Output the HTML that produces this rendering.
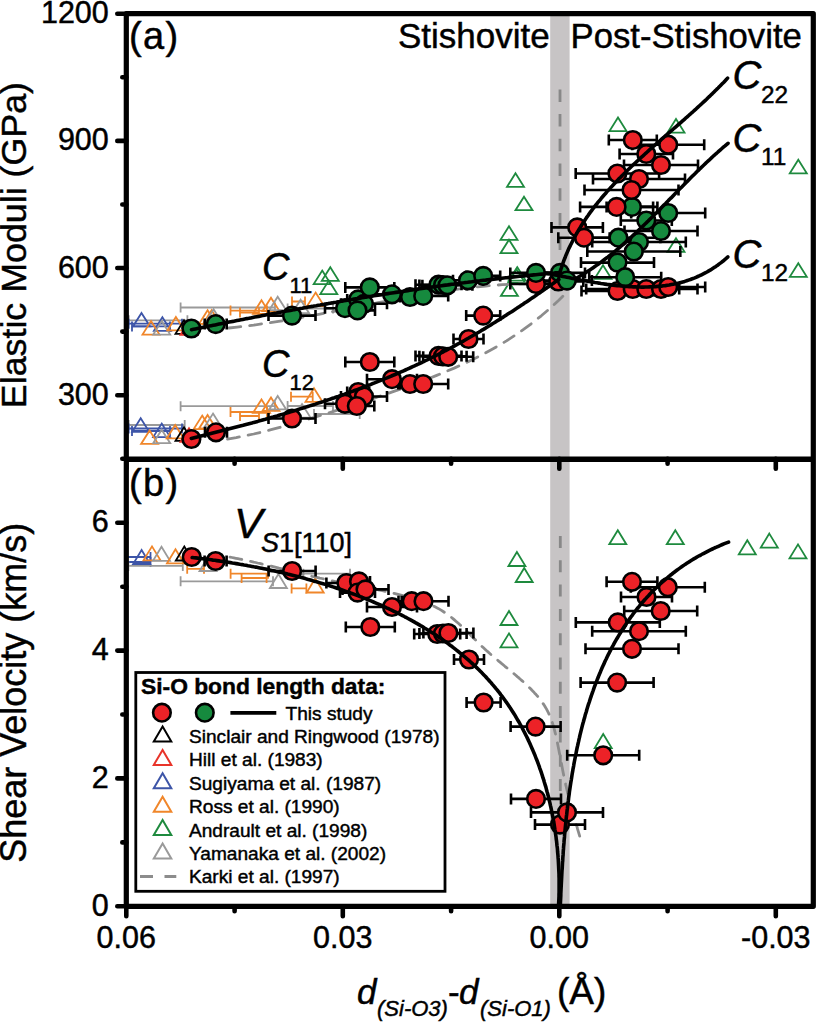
<!DOCTYPE html>
<html><head><meta charset="utf-8"><style>
html,body{margin:0;padding:0;background:#fff;}
svg{display:block;font-family:"Liberation Sans",sans-serif;}
text{stroke:#000;stroke-width:0.45px;}
</style></head><body>
<svg width="816" height="1024" viewBox="0 0 816 1024">
<rect width="816" height="1024" fill="#fff"/>
<rect x="550.2" y="13.7" width="19.4" height="892.5999999999999" fill="#c7c4c5"/>
<path d="M560,89.4V252" stroke="#888" stroke-width="2.8" stroke-dasharray="12.5 12.2" fill="none"/>
<path d="M560.3,536V800" stroke="#888" stroke-width="2.8" stroke-dasharray="12 12.3" fill="none"/>
<path d="M128.7,320.3H187.4M128.7,315.3V325.3M187.4,315.3V325.3" stroke="#9a9a9a" stroke-width="1.8" fill="none"/>
<path d="M128.7,323.7H182.0M128.7,318.7V328.7M182.0,318.7V328.7" stroke="#3d55a8" stroke-width="1.8" fill="none"/>
<path d="M132.0,326.4H170.0M132.0,321.4V331.4M170.0,321.4V331.4" stroke="#3d55a8" stroke-width="1.8" fill="none"/>
<path d="M180.6,307.5H275.0M180.6,302.5V312.5M275.0,302.5V312.5" stroke="#9a9a9a" stroke-width="1.8" fill="none"/>
<path d="M230.5,310.6H267.0M230.5,305.6V315.6M267.0,305.6V315.6" stroke="#f0862a" stroke-width="1.8" fill="none"/>
<path d="M240.0,312.5H259.0M240.0,307.5V317.5M259.0,307.5V317.5" stroke="#f0862a" stroke-width="1.8" fill="none"/>
<path d="M292.0,301.5H305.0M292.0,296.5V306.5M305.0,296.5V306.5" stroke="#f0862a" stroke-width="1.8" fill="none"/>
<path d="M287.6,308.5H333.0M287.6,303.5V313.5M333.0,303.5V313.5" stroke="#9a9a9a" stroke-width="1.8" fill="none"/>
<path d="M128.7,425.0H184.7M128.7,420.0V430.0M184.7,420.0V430.0" stroke="#9a9a9a" stroke-width="1.8" fill="none"/>
<path d="M128.7,428.5H182.0M128.7,423.5V433.5M182.0,423.5V433.5" stroke="#3d55a8" stroke-width="1.8" fill="none"/>
<path d="M132.0,431.0H170.0M132.0,426.0V436.0M170.0,426.0V436.0" stroke="#3d55a8" stroke-width="1.8" fill="none"/>
<path d="M180.6,406.2H275.0M180.6,401.2V411.2M275.0,401.2V411.2" stroke="#9a9a9a" stroke-width="1.8" fill="none"/>
<path d="M230.5,412.0H267.0M230.5,407.0V417.0M267.0,407.0V417.0" stroke="#f0862a" stroke-width="1.8" fill="none"/>
<path d="M240.0,416.0H259.0M240.0,411.0V421.0M259.0,411.0V421.0" stroke="#f0862a" stroke-width="1.8" fill="none"/>
<path d="M291.0,396.7H312.7M291.0,391.7V401.7M312.7,391.7V401.7" stroke="#f0862a" stroke-width="1.8" fill="none"/>
<path d="M287.6,406.0H333.0M287.6,401.0V411.0M333.0,401.0V411.0" stroke="#9a9a9a" stroke-width="1.8" fill="none"/>
<path d="M314.0,414.0H359.7M314.0,409.0V419.0M359.7,409.0V419.0" stroke="#9a9a9a" stroke-width="1.8" fill="none"/>
<path d="M141.5,312.9L150.0,326.4H133.0Z" fill="none" stroke="#3d55a8" stroke-width="1.8" stroke-linejoin="miter"/>
<path d="M162.4,317.2L170.9,330.8H153.9Z" fill="none" stroke="#3d55a8" stroke-width="1.8" stroke-linejoin="miter"/>
<path d="M151.0,321.1L159.5,334.6H142.5Z" fill="none" stroke="#f0862a" stroke-width="1.8" stroke-linejoin="miter"/>
<path d="M161.7,321.1L170.2,334.6H153.2Z" fill="none" stroke="#9a9a9a" stroke-width="1.8" stroke-linejoin="miter"/>
<path d="M175.9,316.9L184.4,330.4H167.4Z" fill="none" stroke="#f0862a" stroke-width="1.8" stroke-linejoin="miter"/>
<path d="M184.0,320.2L192.5,333.8H175.5Z" fill="none" stroke="#000000" stroke-width="1.8" stroke-linejoin="miter"/>
<path d="M189.0,321.2L197.5,334.8H180.5Z" fill="none" stroke="#e8342a" stroke-width="1.8" stroke-linejoin="miter"/>
<path d="M207.6,310.2L216.1,323.8H199.1Z" fill="none" stroke="#f0862a" stroke-width="1.8" stroke-linejoin="miter"/>
<path d="M211.6,310.2L220.1,323.8H203.1Z" fill="none" stroke="#f0862a" stroke-width="1.8" stroke-linejoin="miter"/>
<path d="M213.6,309.2L222.1,322.8H205.1Z" fill="none" stroke="#9a9a9a" stroke-width="1.8" stroke-linejoin="miter"/>
<path d="M261.5,300.2L270.0,313.8H253.0Z" fill="none" stroke="#f0862a" stroke-width="1.8" stroke-linejoin="miter"/>
<path d="M271.0,297.8L279.5,311.2H262.5Z" fill="none" stroke="#f0862a" stroke-width="1.8" stroke-linejoin="miter"/>
<path d="M277.7,296.8L286.2,310.2H269.2Z" fill="none" stroke="#9a9a9a" stroke-width="1.8" stroke-linejoin="miter"/>
<path d="M300.6,299.8L309.1,313.2H292.1Z" fill="none" stroke="#9a9a9a" stroke-width="1.8" stroke-linejoin="miter"/>
<path d="M315.6,292.6L324.1,306.1H307.1Z" fill="none" stroke="#f0862a" stroke-width="1.8" stroke-linejoin="miter"/>
<path d="M322.2,270.6L330.7,284.1H313.7Z" fill="none" stroke="#1e8a3e" stroke-width="1.8" stroke-linejoin="miter"/>
<path d="M330.3,267.2L338.8,280.8H321.8Z" fill="none" stroke="#1e8a3e" stroke-width="1.8" stroke-linejoin="miter"/>
<path d="M328.8,280.6L337.3,294.1H320.3Z" fill="none" stroke="#1e8a3e" stroke-width="1.8" stroke-linejoin="miter"/>
<path d="M140.7,418.2L149.2,431.8H132.2Z" fill="none" stroke="#3d55a8" stroke-width="1.8" stroke-linejoin="miter"/>
<path d="M161.7,423.6L170.2,437.1H153.2Z" fill="none" stroke="#3d55a8" stroke-width="1.8" stroke-linejoin="miter"/>
<path d="M149.6,430.4L158.1,443.9H141.1Z" fill="none" stroke="#f0862a" stroke-width="1.8" stroke-linejoin="miter"/>
<path d="M161.7,429.8L170.2,443.2H153.2Z" fill="none" stroke="#9a9a9a" stroke-width="1.8" stroke-linejoin="miter"/>
<path d="M175.2,424.9L183.7,438.4H166.7Z" fill="none" stroke="#f0862a" stroke-width="1.8" stroke-linejoin="miter"/>
<path d="M184.0,427.2L192.5,440.8H175.5Z" fill="none" stroke="#000000" stroke-width="1.8" stroke-linejoin="miter"/>
<path d="M189.0,428.2L197.5,441.8H180.5Z" fill="none" stroke="#e8342a" stroke-width="1.8" stroke-linejoin="miter"/>
<path d="M202.2,415.6L210.7,429.1H193.7Z" fill="none" stroke="#f0862a" stroke-width="1.8" stroke-linejoin="miter"/>
<path d="M207.6,414.9L216.1,428.4H199.1Z" fill="none" stroke="#f0862a" stroke-width="1.8" stroke-linejoin="miter"/>
<path d="M213.0,413.6L221.5,427.1H204.5Z" fill="none" stroke="#9a9a9a" stroke-width="1.8" stroke-linejoin="miter"/>
<path d="M261.5,399.4L270.0,412.9H253.0Z" fill="none" stroke="#f0862a" stroke-width="1.8" stroke-linejoin="miter"/>
<path d="M271.0,397.4L279.5,410.9H262.5Z" fill="none" stroke="#f0862a" stroke-width="1.8" stroke-linejoin="miter"/>
<path d="M277.7,395.9L286.2,409.4H269.2Z" fill="none" stroke="#9a9a9a" stroke-width="1.8" stroke-linejoin="miter"/>
<path d="M302.0,404.1L310.5,417.6H293.5Z" fill="none" stroke="#9a9a9a" stroke-width="1.8" stroke-linejoin="miter"/>
<path d="M314.0,388.2L322.5,401.8H305.5Z" fill="none" stroke="#f0862a" stroke-width="1.8" stroke-linejoin="miter"/>
<path d="M509.0,226.2L517.5,239.8H500.5Z" fill="none" stroke="#1e8a3e" stroke-width="1.8" stroke-linejoin="miter"/>
<path d="M509.0,239.8L517.5,253.2H500.5Z" fill="none" stroke="#1e8a3e" stroke-width="1.8" stroke-linejoin="miter"/>
<path d="M524.0,196.7L532.5,210.2H515.5Z" fill="none" stroke="#1e8a3e" stroke-width="1.8" stroke-linejoin="miter"/>
<path d="M515.5,173.2L524.0,186.8H507.0Z" fill="none" stroke="#1e8a3e" stroke-width="1.8" stroke-linejoin="miter"/>
<path d="M516.5,269.2L525.0,282.8H508.0Z" fill="none" stroke="#1e8a3e" stroke-width="1.8" stroke-linejoin="miter"/>
<path d="M509.4,282.4L517.9,295.9H500.9Z" fill="none" stroke="#1e8a3e" stroke-width="1.8" stroke-linejoin="miter"/>
<path d="M517.2,267.1L525.7,280.6H508.7Z" fill="none" stroke="#1e8a3e" stroke-width="1.8" stroke-linejoin="miter"/>
<path d="M603.0,265.2L611.5,278.8H594.5Z" fill="none" stroke="#1e8a3e" stroke-width="1.8" stroke-linejoin="miter"/>
<path d="M618.0,117.5L626.5,131.1H609.5Z" fill="none" stroke="#1e8a3e" stroke-width="1.8" stroke-linejoin="miter"/>
<path d="M676.0,119.0L684.5,132.6H667.5Z" fill="none" stroke="#1e8a3e" stroke-width="1.8" stroke-linejoin="miter"/>
<path d="M798.3,159.8L806.8,173.3H789.8Z" fill="none" stroke="#1e8a3e" stroke-width="1.8" stroke-linejoin="miter"/>
<path d="M798.3,263.2L806.8,276.8H789.8Z" fill="none" stroke="#1e8a3e" stroke-width="1.8" stroke-linejoin="miter"/>
<path d="M676.0,238.2L684.5,251.8H667.5Z" fill="none" stroke="#1e8a3e" stroke-width="1.8" stroke-linejoin="miter"/>
<path d="M228.8,328.0 L237.1,327.1 L245.4,326.1 L253.7,325.1 L261.9,323.9 L270.2,322.7 L278.5,321.4 L286.8,320.0 L295.1,318.6 L303.4,317.1 L311.7,315.6 L320.0,314.1 L328.2,312.5 L336.5,310.9 L344.8,309.2 L353.1,307.6 L361.4,305.9 L369.7,304.3 L378.0,302.7 L386.3,301.1 L394.5,299.5 L402.8,298.0 L411.1,296.5 L419.4,295.0 L427.7,293.6 L436.0,292.3 L444.3,291.0 L452.6,289.8 L460.8,288.7 L469.1,287.7 L477.4,286.8 L485.7,286.0 L494.0,285.3 L502.3,284.7 L510.6,284.3 L518.9,283.9 L527.1,283.8 L535.4,283.7 L543.7,283.9 L552.0,284.2" fill="none" stroke="#8c8c8c" stroke-width="2.8" stroke-linecap="round" stroke-linejoin="round" stroke-dasharray="12 9"/>
<path d="M227.5,439.1 L236.2,437.6 L244.9,435.9 L253.7,434.0 L262.4,431.9 L271.1,429.7 L279.8,427.4 L288.5,424.9 L297.2,422.4 L306.0,419.9 L314.7,417.2 L323.4,414.5 L332.1,411.8 L340.8,409.0 L349.6,406.2 L358.3,403.4 L367.0,400.5 L375.7,397.6 L384.4,394.6 L393.1,391.6 L401.9,388.6 L410.6,385.4 L419.3,382.2 L428.0,378.9 L436.7,375.4 L445.4,371.8 L454.2,368.1 L462.9,364.2 L471.6,360.0 L480.3,355.7 L489.0,351.0 L497.8,346.1 L506.5,340.9 L515.2,335.2 L523.9,329.2 L532.6,322.7 L541.3,315.8 L550.1,308.3 L558.8,300.2 L567.5,291.5 L571.0,280.0" fill="none" stroke="#8c8c8c" stroke-width="2.8" stroke-linecap="round" stroke-linejoin="round" stroke-dasharray="12 9"/>
<path d="M204.7,324.1H226.7M204.7,318.6V329.6M226.7,318.6V329.6" stroke="#000" stroke-width="2.6" fill="none"/>
<path d="M268.5,315.6H315.5M268.5,310.1V321.1M315.5,310.1V321.1" stroke="#000" stroke-width="2.6" fill="none"/>
<path d="M325.0,308.2H365.0M325.0,302.7V313.7M365.0,302.7V313.7" stroke="#000" stroke-width="2.6" fill="none"/>
<path d="M347.2,299.4H369.2M347.2,293.9V304.9M369.2,293.9V304.9" stroke="#000" stroke-width="2.6" fill="none"/>
<path d="M341.0,303.8H387.0M341.0,298.3V309.3M387.0,298.3V309.3" stroke="#000" stroke-width="2.6" fill="none"/>
<path d="M340.0,310.4H375.0M340.0,304.9V315.9M375.0,304.9V315.9" stroke="#000" stroke-width="2.6" fill="none"/>
<path d="M345.3,287.4H394.3M345.3,281.9V292.9M394.3,281.9V292.9" stroke="#000" stroke-width="2.6" fill="none"/>
<path d="M367.0,294.3H417.0M367.0,288.8V299.8M417.0,288.8V299.8" stroke="#000" stroke-width="2.6" fill="none"/>
<path d="M400.0,297.0H420.0M400.0,291.5V302.5M420.0,291.5V302.5" stroke="#000" stroke-width="2.6" fill="none"/>
<path d="M398.2,295.9H448.2M398.2,290.4V301.4M448.2,290.4V301.4" stroke="#000" stroke-width="2.6" fill="none"/>
<path d="M415.5,284.7H461.5M415.5,279.2V290.2M461.5,279.2V290.2" stroke="#000" stroke-width="2.6" fill="none"/>
<path d="M419.4,285.0H466.6M419.4,279.5V290.5M466.6,279.5V290.5" stroke="#000" stroke-width="2.6" fill="none"/>
<path d="M422.4,285.3H472.4M422.4,279.8V290.8M472.4,279.8V290.8" stroke="#000" stroke-width="2.6" fill="none"/>
<path d="M453.0,280.3H483.0M453.0,274.8V285.8M483.0,274.8V285.8" stroke="#000" stroke-width="2.6" fill="none"/>
<path d="M466.2,275.9H500.2M466.2,270.4V281.4M500.2,270.4V281.4" stroke="#000" stroke-width="2.6" fill="none"/>
<path d="M510.3,272.9H561.7M510.3,267.4V278.4M561.7,267.4V278.4" stroke="#000" stroke-width="2.6" fill="none"/>
<path d="M535.0,272.9H585.0M535.0,267.4V278.4M585.0,267.4V278.4" stroke="#000" stroke-width="2.6" fill="none"/>
<path d="M541.9,280.6H591.9M541.9,275.1V286.1M591.9,275.1V286.1" stroke="#000" stroke-width="2.6" fill="none"/>
<path d="M606.6,206.9H657.4M606.6,201.4V212.4M657.4,201.4V212.4" stroke="#000" stroke-width="2.6" fill="none"/>
<path d="M631.2,213.0H705.2M631.2,207.5V218.5M705.2,207.5V218.5" stroke="#000" stroke-width="2.6" fill="none"/>
<path d="M620.8,220.5H671.8M620.8,215.0V226.0M671.8,215.0V226.0" stroke="#000" stroke-width="2.6" fill="none"/>
<path d="M624.5,231.0H697.5M624.5,225.5V236.5M697.5,225.5V236.5" stroke="#000" stroke-width="2.6" fill="none"/>
<path d="M576.4,237.7H660.4M576.4,232.2V243.2M660.4,232.2V243.2" stroke="#000" stroke-width="2.6" fill="none"/>
<path d="M592.2,242.0H685.8M592.2,236.5V247.5M685.8,236.5V247.5" stroke="#000" stroke-width="2.6" fill="none"/>
<path d="M587.3,251.5H680.3M587.3,246.0V257.0M680.3,246.0V257.0" stroke="#000" stroke-width="2.6" fill="none"/>
<path d="M581.0,262.6H654.0M581.0,257.1V268.1M654.0,257.1V268.1" stroke="#000" stroke-width="2.6" fill="none"/>
<path d="M589.2,277.2H661.2M589.2,271.7V282.7M661.2,271.7V282.7" stroke="#000" stroke-width="2.6" fill="none"/>
<path d="M205.0,432.3H227.0M205.0,426.8V437.8M227.0,426.8V437.8" stroke="#000" stroke-width="2.6" fill="none"/>
<path d="M268.5,418.5H315.5M268.5,413.0V424.0M315.5,413.0V424.0" stroke="#000" stroke-width="2.6" fill="none"/>
<path d="M325.0,403.8H365.0M325.0,398.3V409.3M365.0,398.3V409.3" stroke="#000" stroke-width="2.6" fill="none"/>
<path d="M347.2,392.0H369.2M347.2,386.5V397.5M369.2,386.5V397.5" stroke="#000" stroke-width="2.6" fill="none"/>
<path d="M341.0,396.5H387.0M341.0,391.0V402.0M387.0,391.0V402.0" stroke="#000" stroke-width="2.6" fill="none"/>
<path d="M339.3,406.0H374.3M339.3,400.5V411.5M374.3,400.5V411.5" stroke="#000" stroke-width="2.6" fill="none"/>
<path d="M345.3,362.0H394.3M345.3,356.5V367.5M394.3,356.5V367.5" stroke="#000" stroke-width="2.6" fill="none"/>
<path d="M367.0,379.2H417.0M367.0,373.7V384.7M417.0,373.7V384.7" stroke="#000" stroke-width="2.6" fill="none"/>
<path d="M400.0,384.0H420.0M400.0,378.5V389.5M420.0,378.5V389.5" stroke="#000" stroke-width="2.6" fill="none"/>
<path d="M398.2,384.0H448.2M398.2,378.5V389.5M448.2,378.5V389.5" stroke="#000" stroke-width="2.6" fill="none"/>
<path d="M415.5,355.9H461.5M415.5,350.4V361.4M461.5,350.4V361.4" stroke="#000" stroke-width="2.6" fill="none"/>
<path d="M419.4,356.3H466.6M419.4,350.8V361.8M466.6,350.8V361.8" stroke="#000" stroke-width="2.6" fill="none"/>
<path d="M423.2,356.8H473.2M423.2,351.3V362.3M473.2,351.3V362.3" stroke="#000" stroke-width="2.6" fill="none"/>
<path d="M453.5,339.0H483.5M453.5,333.5V344.5M483.5,333.5V344.5" stroke="#000" stroke-width="2.6" fill="none"/>
<path d="M466.2,315.6H500.2M466.2,310.1V321.1M500.2,310.1V321.1" stroke="#000" stroke-width="2.6" fill="none"/>
<path d="M510.3,284.0H561.7M510.3,278.5V289.5M561.7,278.5V289.5" stroke="#000" stroke-width="2.6" fill="none"/>
<path d="M533.3,281.5H583.3M533.3,276.0V287.0M583.3,276.0V287.0" stroke="#000" stroke-width="2.6" fill="none"/>
<path d="M581.5,291.0H653.5M581.5,285.5V296.5M653.5,285.5V296.5" stroke="#000" stroke-width="2.6" fill="none"/>
<path d="M586.2,289.0H679.2M586.2,283.5V294.5M679.2,283.5V294.5" stroke="#000" stroke-width="2.6" fill="none"/>
<path d="M620.8,289.0H671.8M620.8,283.5V294.5M671.8,283.5V294.5" stroke="#000" stroke-width="2.6" fill="none"/>
<path d="M624.5,289.0H697.5M624.5,283.5V294.5M697.5,283.5V294.5" stroke="#000" stroke-width="2.6" fill="none"/>
<path d="M631.2,287.0H705.2M631.2,281.5V292.5M705.2,281.5V292.5" stroke="#000" stroke-width="2.6" fill="none"/>
<path d="M608.8,140.0H656.8M608.8,134.5V145.5M656.8,134.5V145.5" stroke="#000" stroke-width="2.6" fill="none"/>
<path d="M632.2,144.7H704.2M632.2,139.2V150.2M704.2,139.2V150.2" stroke="#000" stroke-width="2.6" fill="none"/>
<path d="M619.6,154.0H673.0M619.6,148.5V159.5M673.0,148.5V159.5" stroke="#000" stroke-width="2.6" fill="none"/>
<path d="M624.0,165.0H698.0M624.0,159.5V170.5M698.0,159.5V170.5" stroke="#000" stroke-width="2.6" fill="none"/>
<path d="M575.7,173.5H659.1M575.7,168.0V179.0M659.1,168.0V179.0" stroke="#000" stroke-width="2.6" fill="none"/>
<path d="M593.0,179.0H685.0M593.0,173.5V184.5M685.0,173.5V184.5" stroke="#000" stroke-width="2.6" fill="none"/>
<path d="M584.5,190.0H678.5M584.5,184.5V195.5M678.5,184.5V195.5" stroke="#000" stroke-width="2.6" fill="none"/>
<path d="M580.1,206.9H653.1M580.1,201.4V212.4M653.1,201.4V212.4" stroke="#000" stroke-width="2.6" fill="none"/>
<path d="M551.5,227.4H602.9M551.5,221.9V232.9M602.9,221.9V232.9" stroke="#000" stroke-width="2.6" fill="none"/>
<path d="M558.3,237.7H609.7M558.3,232.2V243.2M609.7,232.2V243.2" stroke="#000" stroke-width="2.6" fill="none"/>
<circle cx="191.4" cy="439.0" r="8.8" fill="#ec2227" stroke="#000" stroke-width="2.6"/>
<circle cx="216.0" cy="432.3" r="8.8" fill="#ec2227" stroke="#000" stroke-width="2.6"/>
<circle cx="292.0" cy="418.5" r="8.8" fill="#ec2227" stroke="#000" stroke-width="2.6"/>
<circle cx="345.0" cy="403.8" r="8.8" fill="#ec2227" stroke="#000" stroke-width="2.6"/>
<circle cx="358.2" cy="392.0" r="8.8" fill="#ec2227" stroke="#000" stroke-width="2.6"/>
<circle cx="364.0" cy="396.5" r="8.8" fill="#ec2227" stroke="#000" stroke-width="2.6"/>
<circle cx="356.8" cy="406.0" r="8.8" fill="#ec2227" stroke="#000" stroke-width="2.6"/>
<circle cx="369.8" cy="362.0" r="8.8" fill="#ec2227" stroke="#000" stroke-width="2.6"/>
<circle cx="392.0" cy="379.2" r="8.8" fill="#ec2227" stroke="#000" stroke-width="2.6"/>
<circle cx="410.0" cy="384.0" r="8.8" fill="#ec2227" stroke="#000" stroke-width="2.6"/>
<circle cx="423.2" cy="384.0" r="8.8" fill="#ec2227" stroke="#000" stroke-width="2.6"/>
<circle cx="438.5" cy="355.9" r="8.8" fill="#ec2227" stroke="#000" stroke-width="2.6"/>
<circle cx="443.0" cy="356.3" r="8.8" fill="#ec2227" stroke="#000" stroke-width="2.6"/>
<circle cx="448.2" cy="356.8" r="8.8" fill="#ec2227" stroke="#000" stroke-width="2.6"/>
<circle cx="468.5" cy="339.0" r="8.8" fill="#ec2227" stroke="#000" stroke-width="2.6"/>
<circle cx="483.2" cy="315.6" r="8.8" fill="#ec2227" stroke="#000" stroke-width="2.6"/>
<circle cx="536.0" cy="284.0" r="8.8" fill="#ec2227" stroke="#000" stroke-width="2.6"/>
<circle cx="558.3" cy="281.5" r="8.8" fill="#ec2227" stroke="#000" stroke-width="2.6"/>
<circle cx="617.5" cy="291.0" r="8.8" fill="#ec2227" stroke="#000" stroke-width="2.6"/>
<circle cx="632.7" cy="289.0" r="8.8" fill="#ec2227" stroke="#000" stroke-width="2.6"/>
<circle cx="646.3" cy="289.0" r="8.8" fill="#ec2227" stroke="#000" stroke-width="2.6"/>
<circle cx="661.0" cy="289.0" r="8.8" fill="#ec2227" stroke="#000" stroke-width="2.6"/>
<circle cx="668.2" cy="287.0" r="8.8" fill="#ec2227" stroke="#000" stroke-width="2.6"/>
<circle cx="191.4" cy="328.5" r="8.8" fill="#168a3e" stroke="#000" stroke-width="2.6"/>
<circle cx="215.7" cy="324.1" r="8.8" fill="#168a3e" stroke="#000" stroke-width="2.6"/>
<circle cx="292.0" cy="315.6" r="8.8" fill="#168a3e" stroke="#000" stroke-width="2.6"/>
<circle cx="345.0" cy="308.2" r="8.8" fill="#168a3e" stroke="#000" stroke-width="2.6"/>
<circle cx="358.2" cy="299.4" r="8.8" fill="#168a3e" stroke="#000" stroke-width="2.6"/>
<circle cx="364.0" cy="303.8" r="8.8" fill="#168a3e" stroke="#000" stroke-width="2.6"/>
<circle cx="357.5" cy="310.4" r="8.8" fill="#168a3e" stroke="#000" stroke-width="2.6"/>
<circle cx="369.8" cy="287.4" r="8.8" fill="#168a3e" stroke="#000" stroke-width="2.6"/>
<circle cx="392.0" cy="294.3" r="8.8" fill="#168a3e" stroke="#000" stroke-width="2.6"/>
<circle cx="410.0" cy="297.0" r="8.8" fill="#168a3e" stroke="#000" stroke-width="2.6"/>
<circle cx="423.2" cy="295.9" r="8.8" fill="#168a3e" stroke="#000" stroke-width="2.6"/>
<circle cx="438.5" cy="284.7" r="8.8" fill="#168a3e" stroke="#000" stroke-width="2.6"/>
<circle cx="443.0" cy="285.0" r="8.8" fill="#168a3e" stroke="#000" stroke-width="2.6"/>
<circle cx="447.4" cy="285.3" r="8.8" fill="#168a3e" stroke="#000" stroke-width="2.6"/>
<circle cx="468.0" cy="280.3" r="8.8" fill="#168a3e" stroke="#000" stroke-width="2.6"/>
<circle cx="483.2" cy="275.9" r="8.8" fill="#168a3e" stroke="#000" stroke-width="2.6"/>
<circle cx="536.0" cy="272.9" r="8.8" fill="#168a3e" stroke="#000" stroke-width="2.6"/>
<circle cx="560.0" cy="272.9" r="8.8" fill="#168a3e" stroke="#000" stroke-width="2.6"/>
<circle cx="566.9" cy="280.6" r="8.8" fill="#168a3e" stroke="#000" stroke-width="2.6"/>
<circle cx="632.0" cy="206.9" r="8.8" fill="#168a3e" stroke="#000" stroke-width="2.6"/>
<circle cx="668.2" cy="213.0" r="8.8" fill="#168a3e" stroke="#000" stroke-width="2.6"/>
<circle cx="646.3" cy="220.5" r="8.8" fill="#168a3e" stroke="#000" stroke-width="2.6"/>
<circle cx="661.0" cy="231.0" r="8.8" fill="#168a3e" stroke="#000" stroke-width="2.6"/>
<circle cx="618.4" cy="237.7" r="8.8" fill="#168a3e" stroke="#000" stroke-width="2.6"/>
<circle cx="639.0" cy="242.0" r="8.8" fill="#168a3e" stroke="#000" stroke-width="2.6"/>
<circle cx="633.8" cy="251.5" r="8.8" fill="#168a3e" stroke="#000" stroke-width="2.6"/>
<circle cx="617.5" cy="262.6" r="8.8" fill="#168a3e" stroke="#000" stroke-width="2.6"/>
<circle cx="625.2" cy="277.2" r="8.8" fill="#168a3e" stroke="#000" stroke-width="2.6"/>
<circle cx="632.8" cy="140.0" r="8.8" fill="#ec2227" stroke="#000" stroke-width="2.6"/>
<circle cx="668.2" cy="144.7" r="8.8" fill="#ec2227" stroke="#000" stroke-width="2.6"/>
<circle cx="646.3" cy="154.0" r="8.8" fill="#ec2227" stroke="#000" stroke-width="2.6"/>
<circle cx="661.0" cy="165.0" r="8.8" fill="#ec2227" stroke="#000" stroke-width="2.6"/>
<circle cx="617.4" cy="173.5" r="8.8" fill="#ec2227" stroke="#000" stroke-width="2.6"/>
<circle cx="639.0" cy="179.0" r="8.8" fill="#ec2227" stroke="#000" stroke-width="2.6"/>
<circle cx="631.5" cy="190.0" r="8.8" fill="#ec2227" stroke="#000" stroke-width="2.6"/>
<circle cx="616.6" cy="206.9" r="8.8" fill="#ec2227" stroke="#000" stroke-width="2.6"/>
<circle cx="577.2" cy="227.4" r="8.8" fill="#ec2227" stroke="#000" stroke-width="2.6"/>
<circle cx="584.0" cy="237.7" r="8.8" fill="#ec2227" stroke="#000" stroke-width="2.6"/>
<path d="M191.5,329.7 L193.4,329.3 L195.4,328.9 L197.4,328.5 L199.4,328.1 L201.3,327.7 L203.3,327.3 L205.3,326.9 L207.3,326.5 L209.2,326.1 L211.2,325.7 L213.2,325.3 L215.2,324.9 L217.1,324.5 L219.1,324.1 L221.1,323.7 L223.1,323.3 L225.0,322.9 L227.0,322.5 L229.0,322.1 L231.0,321.7 L232.9,321.4 L234.9,321.0 L236.9,320.6 L238.9,320.2 L240.9,319.8 L242.8,319.4 L244.8,319.0 L246.8,318.6 L248.8,318.3 L250.8,317.9 L252.7,317.5 L254.7,317.1 L256.7,316.7 L258.7,316.4 L260.7,316.0 L262.6,315.6 L264.6,315.2 L266.6,314.8 L268.6,314.5 L270.6,314.1 L272.5,313.7 L274.5,313.3 L276.5,313.0 L278.5,312.6 L280.5,312.2 L282.5,311.8 L284.4,311.5 L286.4,311.1 L288.4,310.7 L290.4,310.4 L292.4,310.0 L294.4,309.6 L296.3,309.3 L298.3,308.9 L300.3,308.5 L302.3,308.2 L304.3,307.8 L306.3,307.5 L308.3,307.1 L310.2,306.7 L312.2,306.4 L314.2,306.0 L316.2,305.7 L318.2,305.3 L320.2,305.0 L322.2,304.6 L324.2,304.3 L326.1,303.9 L328.1,303.6 L330.1,303.2 L332.1,302.9 L334.1,302.5 L336.1,302.2 L338.1,301.8 L340.1,301.5 L342.0,301.1 L344.0,300.8 L346.0,300.5 L348.0,300.1 L350.0,299.8 L352.0,299.5 L354.0,299.1 L356.0,298.8 L358.0,298.5 L360.0,298.1 L361.9,297.8 L363.9,297.5 L365.9,297.1 L367.9,296.8 L369.9,296.5 L371.9,296.2 L373.9,295.8 L375.9,295.5 L377.9,295.2 L379.9,294.9 L381.9,294.6 L383.9,294.2 L385.8,293.9 L387.8,293.6 L389.8,293.3 L391.8,293.0 L393.8,292.7 L395.8,292.4 L397.8,292.1 L399.8,291.8 L401.8,291.5 L403.8,291.2 L405.8,290.9 L407.8,290.6 L409.8,290.3 L411.8,290.0 L413.8,289.7 L415.8,289.4 L417.8,289.1 L419.8,288.8 L421.8,288.5 L423.8,288.2 L425.7,287.9 L427.7,287.6 L429.7,287.4 L431.7,287.1 L433.7,286.8 L435.7,286.5 L437.7,286.2 L439.7,286.0 L441.7,285.7 L443.7,285.4 L445.7,285.1 L447.7,284.9 L449.7,284.6 L451.7,284.3 L453.7,284.1 L455.7,283.8 L457.7,283.6 L459.7,283.3 L461.7,283.0 L463.7,282.8 L465.7,282.5 L467.7,282.3 L469.7,282.0 L471.7,281.8 L473.7,281.5 L475.7,281.3 L477.7,281.0 L479.7,280.8 L481.7,280.5 L483.7,280.3 L485.7,280.1 L487.7,279.8 L489.7,279.6 L491.7,279.4 L493.7,279.1 L495.7,278.9 L497.8,278.7 L499.8,278.4 L501.8,278.2 L503.8,278.0 L505.8,277.8 L507.8,277.6 L509.8,277.3 L511.8,277.1 L513.8,276.9 L515.8,276.7 L517.8,276.5 L519.8,276.3 L521.8,276.1 L523.8,275.9 L525.8,275.7 L527.8,275.5 L529.8,275.3 L531.8,275.1 L533.8,274.9 L535.8,274.7 L537.8,274.5 L539.9,274.3 L541.9,274.1 L543.9,274.0 L545.9,273.8 L547.9,273.6 L549.9,273.4 L551.9,273.2 L553.9,273.1 L555.9,272.9 L557.9,272.7 L559.9,272.6" fill="none" stroke="#000" stroke-width="3.6" stroke-linecap="round" stroke-linejoin="round"/>
<path d="M545.3,273.0 L547.2,273.3 L549.1,273.7 L551.1,274.1 L553.0,274.5 L555.0,274.9 L556.9,275.3 L558.9,275.6 L560.8,276.0 L562.8,276.4 L564.8,276.8 L566.8,277.2 L568.7,277.6 L570.7,278.0 L572.7,278.4 L574.7,278.8 L576.7,279.2 L578.7,279.6 L580.7,280.0 L582.7,280.3 L584.7,280.7 L586.8,281.1 L588.8,281.4 L590.8,281.8 L592.8,282.1 L594.8,282.5 L596.9,282.8 L598.9,283.1 L600.9,283.5 L602.9,283.8 L605.0,284.1 L607.0,284.4 L609.0,284.6 L611.1,284.9 L613.1,285.1 L615.1,285.4 L617.2,285.6 L619.2,285.8 L621.2,286.0 L623.3,286.2 L625.3,286.4 L627.3,286.5 L629.3,286.6 L631.4,286.8 L633.4,286.9 L635.4,286.9 L637.4,287.0 L639.5,287.0 L641.5,287.1 L643.5,287.1 L645.5,287.0 L647.5,287.0 L649.5,286.9 L651.5,286.8 L653.5,286.7 L655.5,286.6 L657.5,286.4 L659.4,286.3 L661.4,286.1 L663.4,285.8 L665.4,285.6 L667.3,285.3 L669.3,285.0 L671.2,284.6 L673.2,284.2 L675.1,283.8 L677.0,283.4 L679.0,282.9 L680.9,282.4 L682.8,281.9 L684.7,281.4 L686.6,280.8 L688.5,280.1 L690.4,279.5 L692.3,278.8 L694.1,278.1 L696.0,277.3 L697.8,276.5 L699.7,275.7 L701.5,274.8 L703.3,273.9 L705.2,272.9 L707.0,272.0 L708.8,270.9 L710.6,269.9 L712.3,268.8 L714.1,267.6 L715.9,266.4 L717.6,265.2 L719.3,263.9 L721.1,262.6 L722.8,261.3 L724.5,259.8 L726.2,258.4 L727.9,256.9" fill="none" stroke="#000" stroke-width="3.6" stroke-linecap="round" stroke-linejoin="round"/>
<path d="M191.3,438.4 L193.2,437.9 L195.2,437.4 L197.2,436.9 L199.1,436.5 L201.1,436.0 L203.0,435.5 L205.0,435.0 L207.0,434.6 L208.9,434.1 L210.9,433.6 L212.8,433.1 L214.8,432.6 L216.7,432.1 L218.7,431.6 L220.7,431.1 L222.6,430.6 L224.6,430.1 L226.5,429.6 L228.5,429.1 L230.4,428.6 L232.4,428.1 L234.3,427.6 L236.3,427.1 L238.2,426.6 L240.2,426.1 L242.1,425.6 L244.1,425.0 L246.0,424.5 L248.0,424.0 L249.9,423.5 L251.9,423.0 L253.8,422.4 L255.7,421.9 L257.7,421.4 L259.6,420.8 L261.6,420.3 L263.5,419.7 L265.4,419.2 L267.4,418.6 L269.3,418.1 L271.2,417.5 L273.2,417.0 L275.1,416.4 L277.1,415.9 L279.0,415.3 L280.9,414.7 L282.8,414.2 L284.8,413.6 L286.7,413.0 L288.6,412.5 L290.6,411.9 L292.5,411.3 L294.4,410.7 L296.3,410.1 L298.2,409.5 L300.2,408.9 L302.1,408.3 L304.0,407.7 L305.9,407.1 L307.8,406.5 L309.7,405.9 L311.7,405.3 L313.6,404.7 L315.5,404.1 L317.4,403.4 L319.3,402.8 L321.2,402.2 L323.1,401.6 L325.0,400.9 L326.9,400.3 L328.8,399.6 L330.7,399.0 L332.6,398.3 L334.5,397.7 L336.4,397.0 L338.3,396.4 L340.2,395.7 L342.1,395.0 L344.0,394.4 L345.9,393.7 L347.7,393.0 L349.6,392.3 L351.5,391.6 L353.4,391.0 L355.3,390.3 L357.2,389.6 L359.0,388.9 L360.9,388.2 L362.8,387.5 L364.7,386.7 L366.5,386.0 L368.4,385.3 L370.3,384.6 L372.1,383.8 L374.0,383.1 L375.8,382.4 L377.7,381.6 L379.6,380.9 L381.4,380.1 L383.3,379.4 L385.1,378.6 L387.0,377.9 L388.8,377.1 L390.7,376.3 L392.5,375.5 L394.4,374.8 L396.2,374.0 L398.1,373.2 L399.9,372.4 L401.7,371.6 L403.6,370.8 L405.4,370.0 L407.2,369.2 L409.1,368.3 L410.9,367.5 L412.7,366.7 L414.5,365.9 L416.3,365.0 L418.2,364.2 L420.0,363.3 L421.8,362.5 L423.6,361.6 L425.4,360.7 L427.2,359.9 L429.0,359.0 L430.8,358.1 L432.6,357.2 L434.4,356.3 L436.2,355.4 L438.0,354.5 L439.8,353.6 L441.6,352.7 L443.4,351.8 L445.2,350.8 L447.0,349.9 L448.7,349.0 L450.5,348.0 L452.3,347.1 L454.1,346.1 L455.9,345.1 L457.6,344.2 L459.4,343.2 L461.2,342.2 L462.9,341.3 L464.7,340.3 L466.4,339.3 L468.2,338.3 L469.9,337.3 L471.7,336.3 L473.4,335.3 L475.2,334.3 L476.9,333.2 L478.7,332.2 L480.4,331.2 L482.1,330.1 L483.9,329.1 L485.6,328.1 L487.3,327.0 L489.0,326.0 L490.8,324.9 L492.5,323.8 L494.2,322.8 L495.9,321.7 L497.6,320.6 L499.3,319.6 L501.0,318.5 L502.7,317.4 L504.4,316.3 L506.1,315.2 L507.8,314.1 L509.5,313.0 L511.2,312.0 L512.9,310.9 L514.6,309.8 L516.3,308.6 L517.9,307.5 L519.6,306.4 L521.3,305.3 L523.0,304.2 L524.6,303.1 L526.3,302.0 L527.9,300.9 L529.6,299.7 L531.3,298.6 L532.9,297.5 L534.6,296.4 L536.2,295.2 L537.8,294.1 L539.5,293.0 L541.1,291.8 L542.7,290.7 L544.4,289.6 L546.0,288.4 L547.6,287.3 L549.2,286.2 L550.9,285.1 L552.5,283.9 L554.1,282.8 L555.7,281.6 L557.3,280.5 L558.9,279.4" fill="none" stroke="#000" stroke-width="3.6" stroke-linecap="round" stroke-linejoin="round"/>
<path d="M559.0,275.5 L559.6,273.5 L560.2,271.5 L560.8,269.5 L561.5,267.5 L562.1,265.6 L562.8,263.6 L563.5,261.7 L564.2,259.7 L565.0,257.8 L565.7,255.9 L566.5,254.0 L567.3,252.1 L568.1,250.3 L568.9,248.4 L569.8,246.6 L570.7,244.8 L571.6,242.9 L572.5,241.1 L573.4,239.4 L574.3,237.6 L575.3,235.8 L576.3,234.1 L577.3,232.3 L578.3,230.6 L579.3,228.9 L580.4,227.2 L581.4,225.5 L582.5,223.8 L583.6,222.1 L584.7,220.4 L585.8,218.8 L586.9,217.1 L588.1,215.5 L589.2,213.8 L590.4,212.2 L591.6,210.6 L592.8,209.0 L594.0,207.4 L595.2,205.8 L596.5,204.3 L597.7,202.7 L599.0,201.1 L600.3,199.6 L601.5,198.0 L602.8,196.5 L604.1,195.0 L605.5,193.5 L606.8,191.9 L608.1,190.4 L609.5,188.9 L610.8,187.4 L612.2,186.0 L613.6,184.5 L615.0,183.0 L616.4,181.5 L617.8,180.1 L619.2,178.6 L620.6,177.2 L622.0,175.7 L623.5,174.3 L624.9,172.9 L626.3,171.5 L627.8,170.0 L629.3,168.6 L630.7,167.2 L632.2,165.8 L633.7,164.4 L635.2,163.0 L636.7,161.6 L638.2,160.2 L639.7,158.8 L641.2,157.4 L642.7,156.1 L644.2,154.7 L645.7,153.3 L647.2,152.0 L648.7,150.6 L650.3,149.2 L651.8,147.9 L653.3,146.5 L654.9,145.1 L656.4,143.8 L657.9,142.4 L659.5,141.1 L661.0,139.7 L662.6,138.4 L664.1,137.0 L665.6,135.7 L667.2,134.3 L668.7,133.0 L670.3,131.7 L671.8,130.3 L673.3,129.0 L674.9,127.6 L676.4,126.3 L678.0,124.9 L679.5,123.6 L681.0,122.3 L682.6,120.9 L684.1,119.6 L685.6,118.2 L687.2,116.9 L688.7,115.5 L690.2,114.2 L691.7,112.8 L693.2,111.5 L694.7,110.1 L696.2,108.8 L697.7,107.4 L699.2,106.0 L700.7,104.7 L702.2,103.3 L703.7,101.9 L705.1,100.6 L706.6,99.2 L708.0,97.8 L709.5,96.4 L710.9,95.0 L712.4,93.6 L713.8,92.2 L715.2,90.8 L716.6,89.4 L718.1,88.0 L719.5,86.6 L720.8,85.2 L722.2,83.8 L723.6,82.4 L725.0,80.9 L726.3,79.5 L727.6,78.1" fill="none" stroke="#000" stroke-width="3.6" stroke-linecap="round" stroke-linejoin="round"/>
<path d="M576.3,278.3 L578.0,277.3 L579.8,276.3 L581.5,275.2 L583.2,274.2 L584.9,273.2 L586.6,272.1 L588.2,271.0 L589.9,269.9 L591.6,268.8 L593.2,267.7 L594.8,266.6 L596.5,265.4 L598.1,264.3 L599.7,263.1 L601.3,261.9 L602.9,260.7 L604.5,259.5 L606.1,258.3 L607.7,257.1 L609.2,255.9 L610.8,254.6 L612.4,253.4 L613.9,252.1 L615.5,250.9 L617.0,249.6 L618.5,248.3 L620.1,247.0 L621.6,245.7 L623.1,244.4 L624.6,243.0 L626.1,241.7 L627.6,240.4 L629.1,239.0 L630.6,237.7 L632.1,236.3 L633.6,234.9 L635.1,233.6 L636.5,232.2 L638.0,230.8 L639.5,229.4 L640.9,228.0 L642.4,226.6 L643.8,225.2 L645.3,223.8 L646.7,222.4 L648.2,221.0 L649.6,219.5 L651.1,218.1 L652.5,216.7 L653.9,215.2 L655.4,213.8 L656.8,212.4 L658.2,210.9 L659.7,209.5 L661.1,208.0 L662.5,206.6 L663.9,205.1 L665.4,203.7 L666.8,202.2 L668.2,200.8 L669.6,199.3 L671.1,197.9 L672.5,196.4 L673.9,194.9 L675.3,193.5 L676.8,192.0 L678.2,190.6 L679.6,189.1 L681.0,187.7 L682.5,186.2 L683.9,184.8 L685.3,183.3 L686.7,181.9 L688.2,180.4 L689.6,179.0 L691.0,177.6 L692.5,176.1 L693.9,174.7 L695.4,173.3 L696.8,171.8 L698.3,170.4 L699.7,169.0 L701.2,167.6 L702.6,166.2 L704.1,164.8 L705.5,163.4 L707.0,162.0 L708.5,160.6 L710.0,159.3 L711.4,157.9 L712.9,156.5 L714.4,155.2 L715.9,153.8 L717.4,152.5 L718.9,151.1 L720.4,149.8 L721.9,148.5 L723.4,147.2 L725.0,145.9 L726.5,144.6 L728.0,143.3" fill="none" stroke="#000" stroke-width="3.6" stroke-linecap="round" stroke-linejoin="round"/>
<path d="M127.0,557.0H150.5M127.0,552.0V562.0M150.5,552.0V562.0" stroke="#3d55a8" stroke-width="1.8" fill="none"/>
<path d="M127.0,562.0H150.5M127.0,557.0V567.0M150.5,557.0V567.0" stroke="#3d55a8" stroke-width="1.8" fill="none"/>
<path d="M128.4,565.9H182.8M128.4,560.9V570.9M182.8,560.9V570.9" stroke="#9a9a9a" stroke-width="1.8" fill="none"/>
<path d="M187.2,568.8H204.0M187.2,563.8V573.8M204.0,563.8V573.8" stroke="#f0862a" stroke-width="1.8" fill="none"/>
<path d="M180.6,581.3H273.0M180.6,576.3V586.3M273.0,576.3V586.3" stroke="#9a9a9a" stroke-width="1.8" fill="none"/>
<path d="M230.6,573.7H268.0M230.6,568.7V578.7M268.0,568.7V578.7" stroke="#f0862a" stroke-width="1.8" fill="none"/>
<path d="M241.6,578.0H266.6M241.6,573.0V583.0M266.6,573.0V583.0" stroke="#f0862a" stroke-width="1.8" fill="none"/>
<path d="M291.6,588.4H306.4M291.6,583.4V593.4M306.4,583.4V593.4" stroke="#f0862a" stroke-width="1.8" fill="none"/>
<path d="M303.4,573.7H350.0M303.4,568.7V578.7M350.0,568.7V578.7" stroke="#9a9a9a" stroke-width="1.8" fill="none"/>
<path d="M141.6,550.0L150.1,564.0H133.1Z" fill="none" stroke="#3d55a8" stroke-width="1.8" stroke-linejoin="miter"/>
<path d="M152.0,546.4L160.5,560.4H143.5Z" fill="none" stroke="#f0862a" stroke-width="1.8" stroke-linejoin="miter"/>
<path d="M161.5,546.8L170.0,560.8H153.0Z" fill="none" stroke="#9a9a9a" stroke-width="1.8" stroke-linejoin="miter"/>
<path d="M175.5,549.3L184.0,563.3H167.0Z" fill="none" stroke="#f0862a" stroke-width="1.8" stroke-linejoin="miter"/>
<path d="M184.3,546.5L192.8,560.5H175.8Z" fill="none" stroke="#000000" stroke-width="1.8" stroke-linejoin="miter"/>
<path d="M208.0,557.0L216.5,571.0H199.5Z" fill="none" stroke="#9a9a9a" stroke-width="1.8" stroke-linejoin="miter"/>
<path d="M278.4,574.0L286.9,588.0H269.9Z" fill="none" stroke="#9a9a9a" stroke-width="1.8" stroke-linejoin="miter"/>
<path d="M315.2,578.5L323.7,592.5H306.7Z" fill="none" stroke="#f0862a" stroke-width="1.8" stroke-linejoin="miter"/>
<path d="M516.9,552.0L525.4,566.0H508.4Z" fill="none" stroke="#1e8a3e" stroke-width="1.8" stroke-linejoin="miter"/>
<path d="M524.2,568.0L532.7,582.0H515.7Z" fill="none" stroke="#1e8a3e" stroke-width="1.8" stroke-linejoin="miter"/>
<path d="M509.0,611.0L517.5,625.0H500.5Z" fill="none" stroke="#1e8a3e" stroke-width="1.8" stroke-linejoin="miter"/>
<path d="M509.0,633.4L517.5,647.4H500.5Z" fill="none" stroke="#1e8a3e" stroke-width="1.8" stroke-linejoin="miter"/>
<path d="M603.2,734.0L611.7,748.0H594.7Z" fill="none" stroke="#1e8a3e" stroke-width="1.8" stroke-linejoin="miter"/>
<path d="M617.8,530.2L626.3,544.2H609.3Z" fill="none" stroke="#1e8a3e" stroke-width="1.8" stroke-linejoin="miter"/>
<path d="M675.3,530.2L683.8,544.2H666.8Z" fill="none" stroke="#1e8a3e" stroke-width="1.8" stroke-linejoin="miter"/>
<path d="M747.3,540.3L755.8,554.3H738.8Z" fill="none" stroke="#1e8a3e" stroke-width="1.8" stroke-linejoin="miter"/>
<path d="M769.3,533.6L777.8,547.6H760.8Z" fill="none" stroke="#1e8a3e" stroke-width="1.8" stroke-linejoin="miter"/>
<path d="M798.0,544.4L806.5,558.4H789.5Z" fill="none" stroke="#1e8a3e" stroke-width="1.8" stroke-linejoin="miter"/>
<path d="M230.0,557.1 L232.0,557.5 L233.9,557.9 L235.9,558.3 L237.9,558.7 L239.9,559.1 L241.9,559.5 L243.8,559.9 L245.8,560.3 L247.8,560.8 L249.7,561.2 L251.7,561.6 L253.7,562.1 L255.6,562.5 L257.6,563.0 L259.5,563.4 L261.5,563.9 L263.4,564.4 L265.4,564.8 L267.3,565.3 L269.3,565.8 L271.2,566.2 L273.1,566.7 L275.1,567.2 L277.0,567.7 L279.0,568.2 L280.9,568.6 L282.8,569.1 L284.8,569.6 L286.7,570.1 L288.7,570.6 L290.6,571.0 L292.5,571.5 L294.5,572.0 L296.4,572.5 L298.4,573.0 L300.3,573.4 L302.2,573.9 L304.2,574.4 L306.1,574.9 L308.1,575.3 L310.0,575.8 L312.0,576.3 L313.9,576.7 L315.9,577.2 L317.8,577.6 L319.8,578.1 L321.8,578.5 L323.7,579.0 L325.7,579.4 L327.7,579.8 L329.6,580.2 L331.6,580.7 L333.6,581.1 L335.6,581.5 L337.6,581.9 L339.5,582.3 L341.5,582.7 L343.5,583.1 L345.5,583.4 L347.5,583.8 L349.5,584.2 L351.5,584.6 L353.5,585.0 L355.5,585.4 L357.5,585.7 L359.5,586.1 L361.5,586.5 L363.4,586.9 L365.4,587.3 L367.4,587.7 L369.4,588.1 L371.4,588.5 L373.4,588.9 L375.4,589.3 L377.4,589.7 L379.3,590.1 L381.3,590.5 L383.3,590.9 L385.3,591.4 L387.2,591.8 L389.2,592.2 L391.2,592.7 L393.1,593.2 L395.1,593.6 L397.0,594.1 L399.0,594.6 L400.9,595.1 L402.8,595.6 L404.8,596.1 L406.7,596.7 L408.6,597.2 L410.5,597.8 L412.4,598.3 L414.3,598.9 L416.2,599.5 L418.1,600.1 L419.9,600.8 L421.8,601.4 L423.6,602.1 L425.5,602.7 L427.3,603.5 L429.1,604.2 L431.0,605.0 L432.8,605.8 L434.5,606.6 L436.3,607.5 L438.1,608.4 L439.8,609.4 L441.5,610.4 L443.2,611.5 L444.9,612.6 L446.5,613.7 L448.1,614.9 L449.7,616.1 L451.3,617.3 L452.9,618.6 L454.4,619.9 L455.9,621.2 L457.4,622.5 L458.9,623.8 L460.4,625.2 L461.9,626.5 L463.3,627.9 L464.8,629.3 L466.2,630.7 L467.7,632.2 L469.1,633.6 L470.5,635.0 L471.9,636.4 L473.4,637.9 L474.8,639.3 L476.2,640.7 L477.6,642.2 L479.1,643.6 L480.5,645.0 L482.0,646.4 L483.5,647.8 L485.0,649.2 L486.4,650.5 L488.0,651.9 L489.5,653.2 L491.0,654.6 L492.5,655.9 L494.1,657.2 L495.6,658.5 L497.2,659.8 L498.7,661.1 L500.3,662.4 L501.8,663.7 L503.4,665.0 L504.9,666.3 L506.5,667.6 L508.1,668.8 L509.6,670.1 L511.2,671.4 L512.7,672.7 L514.3,674.0 L515.8,675.3 L517.3,676.6 L518.9,677.9 L520.4,679.3 L521.9,680.6 L523.4,681.9 L524.8,683.3 L526.3,684.7 L527.7,686.0 L529.2,687.4 L530.6,688.8 L532.0,690.3 L533.4,691.7 L534.7,693.2 L536.1,694.6 L537.4,696.1 L538.6,697.6 L539.9,699.2 L541.1,700.7 L542.2,702.3 L543.3,703.9 L544.4,705.5 L545.4,707.2 L546.4,708.9 L547.3,710.6 L548.2,712.3 L549.0,714.1 L549.8,715.9 L550.5,717.7 L551.2,719.5 L551.9,721.3 L552.5,723.2 L553.1,725.1 L553.7,727.0 L554.2,728.9 L554.7,730.9 L555.2,732.8 L555.7,734.8 L556.1,736.8 L556.6,738.7 L557.0,740.7 L557.4,742.8 L557.8,744.8 L558.2,746.8 L558.6,748.8 L559.0,750.8 L559.4,752.9 L559.8,754.9 L560.2,757.0 L560.6,759.0 L561.0,761.0 L561.4,763.1 L561.7,765.1 L562.1,767.1 L562.5,769.2 L562.9,771.2 L563.3,773.2 L563.7,775.2 L564.1,777.2 L564.5,779.2 L564.9,781.1 L565.4,783.1 L565.8,785.1 L566.3,787.0 L566.7,788.9 L567.2,790.9 L567.6,792.8 L568.1,794.7 L568.6,796.6 L569.1,798.5 L569.6,800.4 L570.1,802.3 L570.6,804.2 L571.1,806.1 L571.6,808.0 L572.1,809.9 L572.6,811.8 L573.2,813.7 L573.7,815.6 L574.3,817.6 L574.8,819.5 L575.4,821.4 L575.9,823.3 L576.5,825.3 L577.1,827.2 L577.6,829.2 L578.2,831.1 L578.8,833.1 L579.4,835.1 L580.0,837.1" fill="none" stroke="#8c8c8c" stroke-width="2.8" stroke-linecap="round" stroke-linejoin="round" stroke-dasharray="12 9"/>
<path d="M204.6,561.0H226.6M204.6,555.5V566.5M226.6,555.5V566.5" stroke="#000" stroke-width="2.6" fill="none"/>
<path d="M268.6,571.0H315.6M268.6,565.5V576.5M315.6,565.5V576.5" stroke="#000" stroke-width="2.6" fill="none"/>
<path d="M326.4,583.0H366.4M326.4,577.5V588.5M366.4,577.5V588.5" stroke="#000" stroke-width="2.6" fill="none"/>
<path d="M348.0,581.4H370.0M348.0,575.9V586.9M370.0,575.9V586.9" stroke="#000" stroke-width="2.6" fill="none"/>
<path d="M340.0,592.6H375.0M340.0,587.1V598.1M375.0,587.1V598.1" stroke="#000" stroke-width="2.6" fill="none"/>
<path d="M342.5,589.4H388.5M342.5,583.9V594.9M388.5,583.9V594.9" stroke="#000" stroke-width="2.6" fill="none"/>
<path d="M345.8,627.0H394.8M345.8,621.5V632.5M394.8,621.5V632.5" stroke="#000" stroke-width="2.6" fill="none"/>
<path d="M367.0,607.0H417.0M367.0,601.5V612.5M417.0,601.5V612.5" stroke="#000" stroke-width="2.6" fill="none"/>
<path d="M401.7,601.2H421.7M401.7,595.7V606.7M421.7,595.7V606.7" stroke="#000" stroke-width="2.6" fill="none"/>
<path d="M398.5,601.2H448.5M398.5,595.7V606.7M448.5,595.7V606.7" stroke="#000" stroke-width="2.6" fill="none"/>
<path d="M414.2,634.0H460.2M414.2,628.5V639.5M460.2,628.5V639.5" stroke="#000" stroke-width="2.6" fill="none"/>
<path d="M419.4,633.5H466.6M419.4,628.0V639.0M466.6,628.0V639.0" stroke="#000" stroke-width="2.6" fill="none"/>
<path d="M423.4,633.0H473.4M423.4,627.5V638.5M473.4,627.5V638.5" stroke="#000" stroke-width="2.6" fill="none"/>
<path d="M454.0,659.5H484.0M454.0,654.0V665.0M484.0,654.0V665.0" stroke="#000" stroke-width="2.6" fill="none"/>
<path d="M466.6,702.5H500.6M466.6,697.0V708.0M500.6,697.0V708.0" stroke="#000" stroke-width="2.6" fill="none"/>
<path d="M510.6,726.6H560.6M510.6,721.1V732.1M560.6,721.1V732.1" stroke="#000" stroke-width="2.6" fill="none"/>
<path d="M511.0,798.9H561.0M511.0,793.4V804.4M561.0,793.4V804.4" stroke="#000" stroke-width="2.6" fill="none"/>
<path d="M535.0,824.6H585.0M535.0,819.1V830.1M585.0,819.1V830.1" stroke="#000" stroke-width="2.6" fill="none"/>
<path d="M531.0,812.4H603.0M531.0,806.9V817.9M603.0,806.9V817.9" stroke="#000" stroke-width="2.6" fill="none"/>
<path d="M606.6,581.8H657.4M606.6,576.3V587.3M657.4,576.3V587.3" stroke="#000" stroke-width="2.6" fill="none"/>
<path d="M630.8,587.2H704.8M630.8,581.7V592.7M704.8,581.7V592.7" stroke="#000" stroke-width="2.6" fill="none"/>
<path d="M621.0,597.0H672.0M621.0,591.5V602.5M672.0,591.5V602.5" stroke="#000" stroke-width="2.6" fill="none"/>
<path d="M624.2,611.0H697.2M624.2,605.5V616.5M697.2,605.5V616.5" stroke="#000" stroke-width="2.6" fill="none"/>
<path d="M575.8,622.4H659.8M575.8,616.9V627.9M659.8,616.9V627.9" stroke="#000" stroke-width="2.6" fill="none"/>
<path d="M592.2,631.2H685.8M592.2,625.7V636.7M685.8,625.7V636.7" stroke="#000" stroke-width="2.6" fill="none"/>
<path d="M585.5,648.8H678.5M585.5,643.3V654.3M678.5,643.3V654.3" stroke="#000" stroke-width="2.6" fill="none"/>
<path d="M580.6,682.6H653.6M580.6,677.1V688.1M653.6,677.1V688.1" stroke="#000" stroke-width="2.6" fill="none"/>
<path d="M567.2,755.3H639.2M567.2,749.8V760.8M639.2,749.8V760.8" stroke="#000" stroke-width="2.6" fill="none"/>
<circle cx="191.7" cy="557.0" r="8.8" fill="#ec2227" stroke="#000" stroke-width="2.6"/>
<circle cx="215.6" cy="561.0" r="8.8" fill="#ec2227" stroke="#000" stroke-width="2.6"/>
<circle cx="292.1" cy="571.0" r="8.8" fill="#ec2227" stroke="#000" stroke-width="2.6"/>
<circle cx="346.4" cy="583.0" r="8.8" fill="#ec2227" stroke="#000" stroke-width="2.6"/>
<circle cx="359.0" cy="581.4" r="8.8" fill="#ec2227" stroke="#000" stroke-width="2.6"/>
<circle cx="357.5" cy="592.6" r="8.8" fill="#ec2227" stroke="#000" stroke-width="2.6"/>
<circle cx="365.5" cy="589.4" r="8.8" fill="#ec2227" stroke="#000" stroke-width="2.6"/>
<circle cx="370.3" cy="627.0" r="8.8" fill="#ec2227" stroke="#000" stroke-width="2.6"/>
<circle cx="392.0" cy="607.0" r="8.8" fill="#ec2227" stroke="#000" stroke-width="2.6"/>
<circle cx="411.7" cy="601.2" r="8.8" fill="#ec2227" stroke="#000" stroke-width="2.6"/>
<circle cx="423.5" cy="601.2" r="8.8" fill="#ec2227" stroke="#000" stroke-width="2.6"/>
<circle cx="437.2" cy="634.0" r="8.8" fill="#ec2227" stroke="#000" stroke-width="2.6"/>
<circle cx="443.0" cy="633.5" r="8.8" fill="#ec2227" stroke="#000" stroke-width="2.6"/>
<circle cx="448.4" cy="633.0" r="8.8" fill="#ec2227" stroke="#000" stroke-width="2.6"/>
<circle cx="469.0" cy="659.5" r="8.8" fill="#ec2227" stroke="#000" stroke-width="2.6"/>
<circle cx="483.6" cy="702.5" r="8.8" fill="#ec2227" stroke="#000" stroke-width="2.6"/>
<circle cx="535.6" cy="726.6" r="8.8" fill="#ec2227" stroke="#000" stroke-width="2.6"/>
<circle cx="536.0" cy="798.9" r="8.8" fill="#ec2227" stroke="#000" stroke-width="2.6"/>
<circle cx="560.0" cy="824.6" r="8.8" fill="#ec2227" stroke="#000" stroke-width="2.6"/>
<circle cx="567.0" cy="812.4" r="8.8" fill="#ec2227" stroke="#000" stroke-width="2.6"/>
<circle cx="632.0" cy="581.8" r="8.8" fill="#ec2227" stroke="#000" stroke-width="2.6"/>
<circle cx="667.8" cy="587.2" r="8.8" fill="#ec2227" stroke="#000" stroke-width="2.6"/>
<circle cx="646.5" cy="597.0" r="8.8" fill="#ec2227" stroke="#000" stroke-width="2.6"/>
<circle cx="660.7" cy="611.0" r="8.8" fill="#ec2227" stroke="#000" stroke-width="2.6"/>
<circle cx="617.8" cy="622.4" r="8.8" fill="#ec2227" stroke="#000" stroke-width="2.6"/>
<circle cx="639.0" cy="631.2" r="8.8" fill="#ec2227" stroke="#000" stroke-width="2.6"/>
<circle cx="632.0" cy="648.8" r="8.8" fill="#ec2227" stroke="#000" stroke-width="2.6"/>
<circle cx="617.1" cy="682.6" r="8.8" fill="#ec2227" stroke="#000" stroke-width="2.6"/>
<circle cx="603.2" cy="755.3" r="8.8" fill="#ec2227" stroke="#000" stroke-width="2.6"/>
<path d="M192.2,557.5 L194.1,557.7 L196.0,557.9 L197.8,558.1 L199.7,558.3 L201.6,558.6 L203.5,558.8 L205.4,559.1 L207.3,559.3 L209.2,559.5 L211.1,559.8 L213.0,560.1 L214.9,560.3 L216.8,560.6 L218.8,560.9 L220.7,561.2 L222.6,561.4 L224.5,561.7 L226.5,562.0 L228.4,562.3 L230.4,562.6 L232.3,563.0 L234.3,563.3 L236.2,563.6 L238.2,563.9 L240.1,564.3 L242.1,564.6 L244.0,565.0 L246.0,565.3 L248.0,565.7 L249.9,566.0 L251.9,566.4 L253.9,566.8 L255.9,567.1 L257.8,567.5 L259.8,567.9 L261.8,568.3 L263.8,568.7 L265.7,569.1 L267.7,569.6 L269.7,570.0 L271.7,570.4 L273.7,570.8 L275.7,571.3 L277.6,571.7 L279.6,572.2 L281.6,572.6 L283.6,573.1 L285.6,573.6 L287.6,574.1 L289.6,574.5 L291.5,575.0 L293.5,575.5 L295.5,576.0 L297.5,576.5 L299.5,577.1 L301.5,577.6 L303.4,578.1 L305.4,578.6 L307.4,579.2 L309.4,579.7 L311.4,580.3 L313.3,580.9 L315.3,581.4 L317.3,582.0 L319.3,582.6 L321.2,583.2 L323.2,583.8 L325.2,584.4 L327.2,585.0 L329.1,585.6 L331.1,586.3 L333.0,586.9 L335.0,587.5 L336.9,588.2 L338.9,588.9 L340.8,589.5 L342.8,590.2 L344.7,590.9 L346.7,591.6 L348.6,592.2 L350.6,593.0 L352.5,593.7 L354.4,594.4 L356.3,595.1 L358.3,595.8 L360.2,596.6 L362.1,597.3 L364.0,598.1 L365.9,598.8 L367.8,599.6 L369.7,600.4 L371.6,601.2 L373.5,602.0 L375.4,602.8 L377.2,603.6 L379.1,604.4 L381.0,605.2 L382.8,606.1 L384.7,606.9 L386.6,607.8 L388.4,608.6 L390.2,609.5 L392.1,610.4 L393.9,611.3 L395.7,612.2 L397.6,613.1 L399.4,614.0 L401.2,614.9 L403.0,615.8 L404.8,616.8 L406.6,617.7 L408.4,618.7 L410.1,619.6 L411.9,620.6 L413.7,621.6 L415.4,622.6 L417.2,623.6 L418.9,624.6 L420.6,625.6 L422.4,626.6 L424.1,627.7 L425.8,628.7 L427.5,629.7 L429.2,630.8 L430.9,631.9 L432.6,633.0 L434.3,634.0 L435.9,635.1 L437.6,636.3 L439.2,637.4 L440.9,638.5 L442.5,639.6 L444.1,640.8 L445.7,641.9 L447.4,643.1 L449.0,644.3 L450.5,645.5 L452.1,646.6 L453.7,647.9 L455.3,649.1 L456.8,650.3 L458.3,651.5 L459.9,652.8 L461.4,654.0 L462.9,655.3 L464.4,656.5 L465.9,657.8 L467.4,659.1 L468.9,660.4 L470.3,661.7 L471.8,663.1 L473.2,664.4 L474.7,665.7 L476.1,667.1 L477.5,668.4 L478.9,669.8 L480.3,671.2 L481.7,672.6 L483.0,674.0 L484.4,675.4 L485.7,676.8 L487.0,678.3 L488.4,679.7 L489.7,681.2 L491.0,682.6 L492.2,684.1 L493.5,685.6 L494.8,687.1 L496.0,688.6 L497.3,690.1 L498.5,691.7 L499.7,693.2 L500.9,694.8 L502.1,696.3 L503.2,697.9 L504.4,699.5 L505.5,701.1 L506.7,702.7 L507.8,704.3 L508.9,705.9 L510.0,707.6 L511.1,709.2 L512.2,710.9 L513.2,712.5 L514.3,714.2 L515.3,715.9 L516.3,717.6 L517.3,719.3 L518.3,721.0 L519.3,722.7 L520.3,724.5 L521.2,726.2 L522.2,727.9 L523.1,729.7 L524.0,731.5 L524.9,733.2 L525.8,735.0 L526.7,736.8 L527.6,738.6 L528.4,740.4 L529.3,742.2 L530.1,744.0 L530.9,745.9 L531.7,747.7 L532.5,749.5 L533.3,751.4 L534.1,753.2 L534.9,755.1 L535.6,757.0 L536.3,758.8 L537.1,760.7 L537.8,762.6 L538.5,764.5 L539.2,766.4 L539.8,768.3 L540.5,770.2 L541.2,772.1 L541.8,774.0 L542.4,775.9 L543.0,777.9 L543.7,779.8 L544.2,781.8 L544.8,783.7 L545.4,785.6 L546.0,787.6 L546.5,789.6 L547.0,791.5 L547.6,793.5 L548.1,795.5 L548.6,797.4 L549.0,799.4 L549.5,801.4 L550.0,803.4 L550.4,805.4 L550.9,807.4 L551.3,809.4 L551.7,811.4 L552.1,813.4 L552.5,815.4 L552.9,817.4 L553.3,819.4 L553.6,821.4 L554.0,823.4 L554.3,825.4 L554.6,827.5 L554.9,829.5 L555.3,831.5 L555.5,833.5 L555.8,835.5 L556.1,837.6 L556.3,839.6 L556.6,841.6 L556.8,843.7 L557.0,845.7 L557.3,847.7 L557.5,849.8 L557.6,851.8 L557.8,853.8 L558.0,855.9 L558.1,857.9 L558.3,859.9 L558.4,862.0 L558.5,864.0 L558.6,866.0 L558.7,868.1 L558.8,870.1 L558.9,872.1 L559.0,874.2 L559.0,876.2 L559.1,878.2 L559.1,880.3 L559.1,882.3 L559.1,884.3 L559.1,886.3 L559.1,888.4 L559.1,890.4 L559.1,892.4 L559.0,894.4 L559.0,896.4 L558.9,898.5 L558.8,900.5 L558.7,902.5 L558.6,904.5 L558.5,906.5" fill="none" stroke="#000" stroke-width="3.6" stroke-linecap="round" stroke-linejoin="round"/>
<path d="M560.4,905.0 L560.4,903.2 L560.5,901.3 L560.6,899.4 L560.7,897.5 L560.8,895.6 L560.8,893.7 L560.9,891.8 L561.0,889.9 L561.1,888.0 L561.2,886.1 L561.3,884.1 L561.4,882.2 L561.5,880.3 L561.6,878.3 L561.7,876.4 L561.8,874.4 L561.9,872.5 L562.0,870.5 L562.2,868.6 L562.3,866.6 L562.4,864.6 L562.5,862.6 L562.7,860.7 L562.8,858.7 L562.9,856.7 L563.1,854.7 L563.2,852.7 L563.3,850.7 L563.5,848.7 L563.6,846.7 L563.8,844.7 L564.0,842.7 L564.1,840.7 L564.3,838.7 L564.5,836.7 L564.6,834.7 L564.8,832.7 L565.0,830.7 L565.2,828.6 L565.4,826.6 L565.6,824.6 L565.8,822.6 L566.0,820.5 L566.2,818.5 L566.4,816.5 L566.7,814.4 L566.9,812.4 L567.1,810.4 L567.4,808.3 L567.6,806.3 L567.8,804.3 L568.1,802.2 L568.4,800.2 L568.6,798.2 L568.9,796.1 L569.2,794.1 L569.4,792.1 L569.7,790.0 L570.0,788.0 L570.3,785.9 L570.6,783.9 L570.9,781.9 L571.3,779.8 L571.6,777.8 L571.9,775.8 L572.2,773.7 L572.6,771.7 L572.9,769.7 L573.3,767.6 L573.7,765.6 L574.0,763.6 L574.4,761.5 L574.8,759.5 L575.2,757.5 L575.6,755.5 L576.0,753.5 L576.4,751.4 L576.8,749.4 L577.2,747.4 L577.7,745.4 L578.1,743.4 L578.6,741.4 L579.0,739.4 L579.5,737.4 L579.9,735.4 L580.4,733.4 L580.9,731.4 L581.4,729.4 L581.9,727.4 L582.4,725.4 L582.9,723.5 L583.5,721.5 L584.0,719.5 L584.6,717.6 L585.1,715.6 L585.7,713.6 L586.3,711.7 L586.8,709.7 L587.4,707.8 L588.0,705.8 L588.6,703.9 L589.3,702.0 L589.9,700.0 L590.5,698.1 L591.2,696.2 L591.8,694.3 L592.5,692.4 L593.2,690.5 L593.8,688.6 L594.5,686.7 L595.2,684.8 L596.0,682.9 L596.7,681.0 L597.4,679.2 L598.2,677.3 L598.9,675.4 L599.7,673.6 L600.5,671.7 L601.2,669.9 L602.0,668.1 L602.8,666.2 L603.7,664.4 L604.5,662.6 L605.3,660.8 L606.2,659.0 L607.0,657.2 L607.9,655.4 L608.8,653.7 L609.7,651.9 L610.6,650.1 L611.5,648.4 L612.4,646.6 L613.4,644.9 L614.3,643.2 L615.3,641.4 L616.3,639.7 L617.3,638.0 L618.3,636.3 L619.3,634.6 L620.3,633.0 L621.3,631.3 L622.4,629.6 L623.4,628.0 L624.5,626.3 L625.6,624.7 L626.7,623.1 L627.8,621.4 L628.9,619.8 L630.1,618.2 L631.2,616.6 L632.4,615.1 L633.5,613.5 L634.7,611.9 L635.9,610.4 L637.1,608.8 L638.4,607.3 L639.6,605.8 L640.9,604.3 L642.1,602.8 L643.4,601.3 L644.7,599.8 L646.0,598.4 L647.3,596.9 L648.7,595.5 L650.0,594.0 L651.4,592.6 L652.8,591.2 L654.2,589.8 L655.6,588.4 L657.0,587.1 L658.4,585.7 L659.9,584.3 L661.3,583.0 L662.8,581.7 L664.3,580.4 L665.8,579.1 L667.3,577.8 L668.9,576.5 L670.4,575.2 L672.0,574.0 L673.6,572.7 L675.2,571.5 L676.8,570.3 L678.4,569.1 L680.1,567.9 L681.7,566.7 L683.4,565.6 L685.1,564.4 L686.8,563.3 L688.5,562.2 L690.3,561.1 L692.0,560.0 L693.8,558.9 L695.6,557.9 L697.4,556.8 L699.2,555.8 L701.1,554.8 L702.9,553.8 L704.8,552.8 L706.7,551.8 L708.6,550.8 L710.5,549.9 L712.4,549.0 L714.4,548.0 L716.4,547.2 L718.4,546.3 L720.4,545.4 L722.4,544.5 L724.4,543.7 L726.5,542.9 L728.6,542.1" fill="none" stroke="#000" stroke-width="3.6" stroke-linecap="round" stroke-linejoin="round"/>
<rect x="126.3" y="13.7" width="687.0" height="892.5999999999999" fill="none" stroke="#000" stroke-width="5.2" stroke-linejoin="round"/>
<path d="M126.3,459.2H813.3" stroke="#000" stroke-width="5.6"/>
<path d="M126.3,13.7h-9 M126.3,140.9h-9 M126.3,268.0h-9 M126.3,395.2h-9 M126.3,77.3h-4 M126.3,204.5h-4 M126.3,331.6h-4 M126.3,458.8h-4 M126.3,906.3h-9 M126.3,778.4h-9 M126.3,650.6h-9 M126.3,522.7h-9 M126.3,842.4h-4 M126.3,714.5h-4 M126.3,586.7h-4 M126.3,906.3v10 M126.3,458.8v10 M342.8,906.3v10 M342.8,458.8v10 M559.3,906.3v10 M559.3,458.8v10 M775.8,906.3v10 M775.8,458.8v10 M234.6,906.3v5 M234.6,458.8v5 M451.1,906.3v5 M451.1,458.8v5 M667.6,906.3v5 M667.6,458.8v5" stroke="#000" stroke-width="4.6" stroke-linecap="round" fill="none"/>
<text x="108.8" y="23.2" font-size="30.5" text-anchor="end" font-weight="normal" font-style="normal" fill="#000" >1200</text>
<text x="108.8" y="150.4" font-size="30.5" text-anchor="end" font-weight="normal" font-style="normal" fill="#000" >900</text>
<text x="108.8" y="277.5" font-size="30.5" text-anchor="end" font-weight="normal" font-style="normal" fill="#000" >600</text>
<text x="108.8" y="404.7" font-size="30.5" text-anchor="end" font-weight="normal" font-style="normal" fill="#000" >300</text>
<text x="108.8" y="915.8" font-size="30.5" text-anchor="end" font-weight="normal" font-style="normal" fill="#000" >0</text>
<text x="108.8" y="787.9" font-size="30.5" text-anchor="end" font-weight="normal" font-style="normal" fill="#000" >2</text>
<text x="108.8" y="660.1" font-size="30.5" text-anchor="end" font-weight="normal" font-style="normal" fill="#000" >4</text>
<text x="108.8" y="532.2" font-size="30.5" text-anchor="end" font-weight="normal" font-style="normal" fill="#000" >6</text>
<text x="126.3" y="947.5" font-size="30.5" text-anchor="middle" font-weight="normal" font-style="normal" fill="#000" >0.06</text>
<text x="342.8" y="947.5" font-size="30.5" text-anchor="middle" font-weight="normal" font-style="normal" fill="#000" >0.03</text>
<text x="559.3" y="947.5" font-size="30.5" text-anchor="middle" font-weight="normal" font-style="normal" fill="#000" >0.00</text>
<text x="775.8" y="947.5" font-size="30.5" text-anchor="middle" font-weight="normal" font-style="normal" fill="#000" >-0.03</text>
<text transform="translate(26.2,408.2) rotate(-90)" font-size="35.8">Elastic Moduli (GPa)</text>
<text transform="translate(25.9,862.8) rotate(-90)" font-size="36">Shear Velocity (km/s)</text>
<text x="357" y="1004" font-size="35" font-style="italic">d</text>
<text x="377" y="1016" font-size="22" font-style="italic">(Si-O3)</text>
<text x="448" y="1004" font-size="35" font-style="normal">-</text>
<text x="459" y="1004" font-size="35" font-style="italic">d</text>
<text x="480" y="1016" font-size="22" font-style="italic">(Si-O1)</text>
<text x="557" y="1004" font-size="37" >(Å)</text>
<text x="129.0" y="49.2" font-size="38" text-anchor="start" font-weight="normal" font-style="normal" fill="#000" letter-spacing="1.4">(a)</text>
<text x="129.0" y="495.5" font-size="38" text-anchor="start" font-weight="normal" font-style="normal" fill="#000" letter-spacing="1.4">(b)</text>
<text x="398.0" y="47.8" font-size="35" text-anchor="start" font-weight="normal" font-style="normal" fill="#000" >Stishovite</text>
<text x="570.5" y="47.6" font-size="34.7" text-anchor="start" font-weight="normal" font-style="normal" fill="#000" >Post-Stishovite</text>
<text x="262" y="279.7" font-size="38" font-style="italic">C</text>
<text x="289.5" y="293.4" font-size="22">11</text>
<text x="262" y="376.6" font-size="38" font-style="italic">C</text>
<text x="289.5" y="389.6" font-size="22">12</text>
<text x="732.5" y="89" font-size="40" font-style="italic">C</text>
<text x="761.0" y="102.5" font-size="24.4">22</text>
<text x="732.5" y="151.5" font-size="40" font-style="italic">C</text>
<text x="761.0" y="165.0" font-size="24.4">11</text>
<text x="732.5" y="267.5" font-size="40" font-style="italic">C</text>
<text x="761.0" y="281.0" font-size="24.4">12</text>
<text x="234" y="537.5" font-size="43" font-style="italic">V</text>
<text x="261" y="552" font-size="27"><tspan font-style="italic">S</tspan>1[110]</text>
<rect x="135.8" y="672.5" width="309.2" height="218.8" fill="#fff" stroke="#000" stroke-width="2.8"/>
<text x="141.0" y="694.2" font-size="22.8" text-anchor="start" font-weight="bold" font-style="normal" fill="#000" >Si-O bond length data:</text>
<circle cx="161.9" cy="712.7" r="8.8" fill="#ec2227" stroke="#000" stroke-width="2.6"/>
<circle cx="204.8" cy="712.7" r="8.8" fill="#168a3e" stroke="#000" stroke-width="2.6"/>
<path d="M230.4,712.9H276.3" stroke="#000" stroke-width="3.6"/>
<text x="285.5" y="720.2" font-size="19.1" text-anchor="start" font-weight="normal" font-style="normal" fill="#000" >This study</text>
<path d="M162.6,726.5L171.3,741.5H153.8Z" fill="none" stroke="#000000" stroke-width="2" stroke-linejoin="miter"/>
<text x="189.0" y="743.0" font-size="19.1" text-anchor="start" font-weight="normal" font-style="normal" fill="#000" >Sinclair and Ringwood (1978)</text>
<path d="M162.6,749.9L171.3,764.9H153.8Z" fill="none" stroke="#e8342a" stroke-width="2" stroke-linejoin="miter"/>
<text x="189.0" y="766.4" font-size="19.1" text-anchor="start" font-weight="normal" font-style="normal" fill="#000" >Hill et al. (1983)</text>
<path d="M162.6,773.2L171.3,788.2H153.8Z" fill="none" stroke="#3d55a8" stroke-width="2" stroke-linejoin="miter"/>
<text x="189.0" y="789.8" font-size="19.1" text-anchor="start" font-weight="normal" font-style="normal" fill="#000" >Sugiyama et al. (1987)</text>
<path d="M162.6,796.7L171.3,811.7H153.8Z" fill="none" stroke="#f0862a" stroke-width="2" stroke-linejoin="miter"/>
<text x="189.0" y="813.2" font-size="19.1" text-anchor="start" font-weight="normal" font-style="normal" fill="#000" >Ross et al. (1990)</text>
<path d="M162.6,820.1L171.3,835.1H153.8Z" fill="none" stroke="#1e8a3e" stroke-width="2" stroke-linejoin="miter"/>
<text x="189.0" y="836.6" font-size="19.1" text-anchor="start" font-weight="normal" font-style="normal" fill="#000" >Andrault et al. (1998)</text>
<path d="M162.6,843.5L171.3,858.5H153.8Z" fill="none" stroke="#9a9a9a" stroke-width="2" stroke-linejoin="miter"/>
<text x="189.0" y="860.0" font-size="19.1" text-anchor="start" font-weight="normal" font-style="normal" fill="#000" >Yamanaka et al. (2002)</text>
<path d="M140,876.6H176.3" stroke="#8c8c8c" stroke-width="3" stroke-dasharray="13 11.5"/>
<text x="189.0" y="883.4" font-size="19.1" text-anchor="start" font-weight="normal" font-style="normal" fill="#000" >Karki et al. (1997)</text>
</svg></body></html>
